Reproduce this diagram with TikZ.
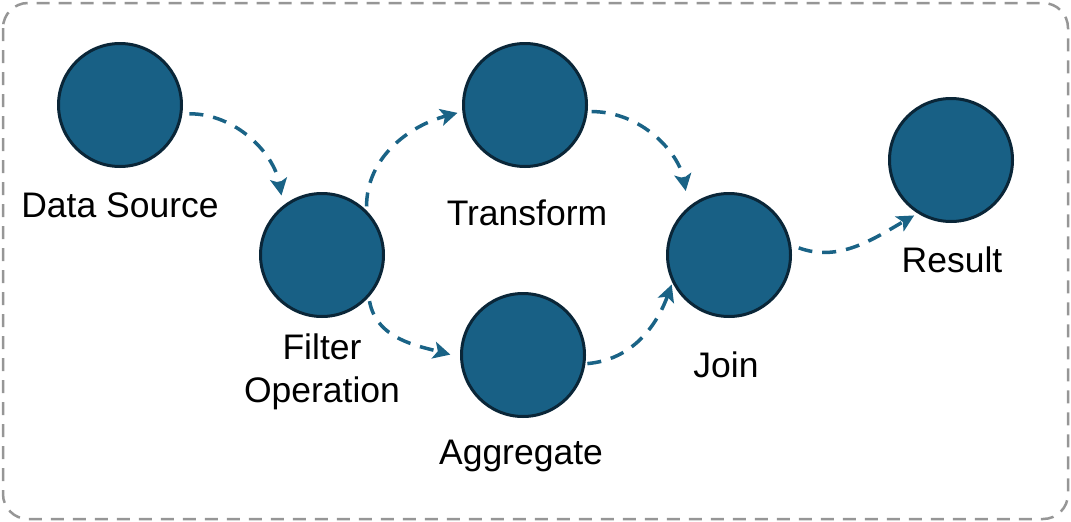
\documentclass[tikz,border=0pt]{standalone}
\usepackage{fontspec}
\setmainfont{Liberation Sans}
\usetikzlibrary{arrows.meta}
\definecolor{nodefill}{RGB}{24,96,133}
\definecolor{nodeline}{RGB}{10,38,56}
\definecolor{arrowc}{RGB}{26,99,134}
\definecolor{framec}{RGB}{150,150,150}
\tikzset{
  stage/.style={circle, fill=nodefill, draw=nodeline, line width=3pt, minimum size=123pt, inner sep=0pt},
  lbl/.style={font=\fontsize{35.5}{43}\selectfont, text=black, align=center, inner sep=0pt},
  flow/.style={draw=arrowc, line width=3.5pt, dash pattern=on 14pt off 10pt,
    -{Stealth[length=17pt,width=17pt,inset=4pt]}},
  frame/.style={draw=framec, line width=2.5pt, dash pattern=on 13pt off 9pt, rounded corners=25pt}
}
\begin{document}
\begin{tikzpicture}[x=1pt,y=-1pt]
\useasboundingbox (0,0) rectangle (1071,522);
\draw[frame] (3,3) rectangle (1068,519);
\node[stage] (ds) at (120,105) {};
\node[stage] (fo) at (322,255) {};
\node[stage] (tr) at (525,105) {};
\node[stage] (ag) at (523,355) {};
\node[stage] (jo) at (729,255) {};
\node[stage] (re) at (951,160) {};
\node[lbl] (dsl) at (120,205) {Data Source};
\node[lbl] (fol) at (322,372) {Filter\\Operation};
\node[lbl] (trl) at (527,213) {Transform};
\node[lbl] (agl) at (521,456) {Aggregate};
\node[lbl] (jol) at (726,365) {Join};
\node[lbl] (rel) at (952,260) {Result};
\path[flow, shorten <=7pt, shorten >=10pt] (ds.-8) to[out=0, in=100] (fo.128);
\path[flow, shorten <=4pt, shorten >=5pt] (fo.45) to[out=90, in=195] (tr.186);
\path[flow, shorten <=4pt, shorten >=16pt] (tr.-6) to[out=0, in=100] (jo.130);
\path[flow, shorten <=4pt, shorten >=10pt] (fo.-42) to[out=-80, in=165] (ag.182);
\path[flow, shorten <=2pt, shorten >=2pt] (ag.-8) to[out=5, in=-110] (jo.206);
\path[flow, shorten <=8pt, shorten >=4pt] (jo.9) to[out=-20, in=210] (re.238);
\end{tikzpicture}
\end{document}
